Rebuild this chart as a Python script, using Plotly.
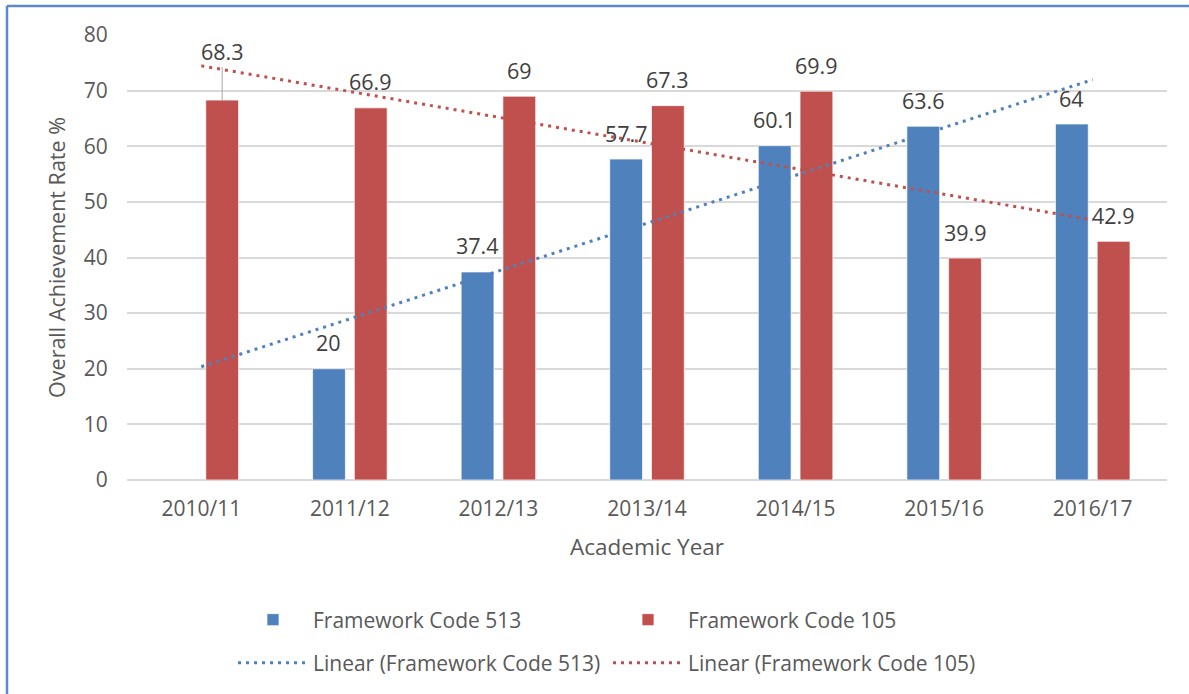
import numpy as np
import plotly.graph_objects as go

years = ["2010/11", "2011/12", "2012/13", "2013/14", "2014/15", "2015/16", "2016/17"]
code_513 = [None, 20, 37.4, 57.7, 60.1, 63.6, 64]
code_105 = [68.3, 66.9, 69, 67.3, 69.9, 39.9, 42.9]

BLUE = "#4F81BD"
RED = "#C0504D"
FONT = "Open Sans"
TXT = "#595959"
LBL = "#404040"

BARGAP = 0.438
OFFSET = (1 - BARGAP) / 4  # centre of each bar inside its group

W, H = 1189, 694
L, T, PW, PH = 127, 35, 1040, 446  # plot area in pixels


def linear_trend(values):
    """Excel-style linear trendline on category positions."""
    idx = np.array([i for i, v in enumerate(values) if v is not None], dtype=float)
    vals = np.array([v for v in values if v is not None], dtype=float)
    slope, intercept = np.polyfit(idx, vals, 1)
    xs = np.arange(len(values))
    return slope * xs + intercept


def px_x(px):
    return (px - L) / PW


def px_y(py):
    return (T + PH - py) / PH


fig = go.Figure()

fig.add_trace(go.Bar(
    x=years, y=code_513, name="Framework Code 513",
    marker=dict(color=BLUE, line=dict(color="rgba(255,255,255,0.7)", width=1)),
    legend="legend",
))
fig.add_trace(go.Bar(
    x=years, y=code_105, name="Framework Code 105",
    marker=dict(color=RED, line=dict(color="rgba(255,255,255,0.7)", width=1)),
    legend="legend",
))
fig.add_trace(go.Scatter(
    x=years, y=linear_trend(code_513), mode="lines",
    name="Linear (Framework Code 513)",
    line=dict(color=BLUE, width=3, dash="3px,5px"),
    legend="legend2",
))
fig.add_trace(go.Scatter(
    x=years, y=linear_trend(code_105), mode="lines",
    name="Linear (Framework Code 105)",
    line=dict(color=RED, width=3, dash="3px,5px"),
    legend="legend2",
))

# data labels
for series, shift in ((code_513, -OFFSET), (code_105, OFFSET)):
    for i, v in enumerate(series):
        if v is None:
            continue
        if series is code_105 and i == 0:
            # label pulled above the trendline with a leader line
            fig.add_annotation(
                x=i + shift, y=v, text=f"{v:g}", showarrow=True,
                arrowhead=0, arrowwidth=1, arrowcolor="#A6A6A6",
                ax=0, ay=-49, font=dict(size=21.5, color=LBL, family=FONT),
            )
        else:
            fig.add_annotation(
                x=i + shift, y=v, text=f"{v:g}", showarrow=False,
                yanchor="middle", yshift=26,
                font=dict(size=21.5, color=LBL, family=FONT),
            )

# chart border: only the left and top edges are visible in the source
border = dict(color="#5B8AC6", width=2.5)
fig.add_shape(type="line", xref="paper", yref="paper",
              x0=px_x(7), x1=px_x(7), y0=px_y(H + 10), y1=px_y(6), line=border)
fig.add_shape(type="line", xref="paper", yref="paper",
              x0=px_x(7), x1=px_x(W + 10), y0=px_y(6), y1=px_y(6), line=border)

legend_common = dict(
    orientation="h", x=px_x(233), xanchor="left", yanchor="middle",
    entrywidth=290, itemwidth=70,
    font=dict(size=21, color=TXT, family=FONT),
)

fig.update_layout(
    width=W, height=H,
    margin=dict(l=L, r=W - L - PW, t=T, b=H - T - PH),
    plot_bgcolor="white", paper_bgcolor="white",
    barmode="group", bargap=BARGAP, bargroupgap=0.214,
    font=dict(family=FONT, color=TXT, size=21),
    legend=dict(legend_common, y=px_y(620)),
    legend2=dict(legend_common, y=px_y(663)),
    xaxis=dict(
        title=dict(text="Academic Year", font=dict(size=22.5, color=TXT), standoff=18),
        ticks="outside", ticklen=10, tickcolor="rgba(0,0,0,0)",
        tickfont=dict(size=21, color=TXT),
        showgrid=False, showline=False, zeroline=False,
    ),
    yaxis=dict(
        title=dict(text="Overall Achievement Rate %", font=dict(size=21.5, color=TXT), standoff=12),
        range=[0, 80], dtick=10,
        ticks="outside", ticklen=14, tickcolor="rgba(0,0,0,0)",
        tickfont=dict(size=21, color=TXT),
        showgrid=True, gridcolor="#D9D9D9", gridwidth=1.5,
        zeroline=True, zerolinecolor="#D9D9D9", zerolinewidth=1.5,
        showline=False,
    ),
)

# drop the default body margin so the figure fills the window exactly
fig.write_html(
    "out.html",
    config={"displayModeBar": False},
    post_script="document.body.style.margin='0';document.body.style.overflow='hidden';",
)
